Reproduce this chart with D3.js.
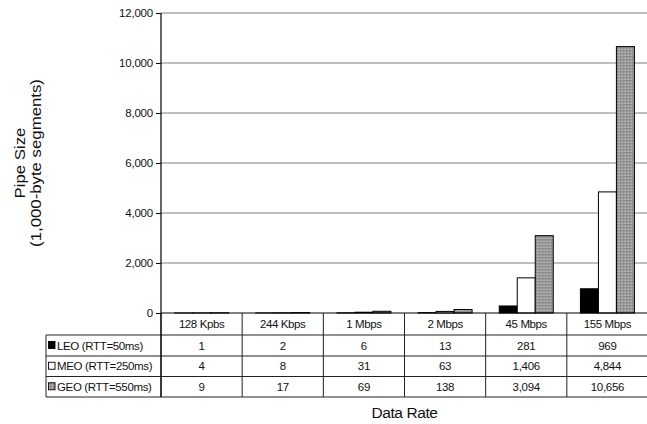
<!DOCTYPE html>
<html>
<head>
<meta charset="utf-8">
<script src="https://cdn.jsdelivr.net/npm/d3@7"></script>
<style>
  html, body { margin: 0; padding: 0; background: #fff; }
  svg { display: block; font-family: "Liberation Sans", Arial, Helvetica, sans-serif; }
  text { fill: #111; }
</style>
</head>
<body>
<svg id="chart" width="647" height="424"></svg>
<script>
// Bandwidth-delay product per orbit class, in 1,000-byte segments
const categories = ["128 Kpbs", "244 Kbps", "1 Mbps", "2 Mbps", "45 Mbps", "155 Mbps"];
const seriesNames = ["LEO (RTT=50ms)", "MEO (RTT=250ms)", "GEO (RTT=550ms)"];
const leoValues = [1, 2, 6, 13, 281, 969];
const meoValues = [4, 8, 31, 63, 1406, 4844];
const geoValues = [9, 17, 69, 138, 3094, 10656];
const yTickValues = [0, 2000, 4000, 6000, 8000, 10000, 12000];

const seriesValues = [leoValues, meoValues, geoValues];
const fmt = d3.format(",");

const svg = d3.select("#chart");

// Patterned fill for the GEO bars
const defs = svg.append("defs");
const pat = defs.append("pattern")
  .attr("id", "geoFill").attr("patternUnits", "userSpaceOnUse")
  .attr("width", 3).attr("height", 3);
pat.append("rect").attr("width", 3).attr("height", 3).attr("fill", "#8a8a8a");
pat.append("rect").attr("x", 0.5).attr("y", 0.5).attr("width", 1.6).attr("height", 1.6).attr("fill", "#c4c4c4");

const fills = ["#000", "#fff", "url(#geoFill)"];

const plotLeft = 161, plotRight = 648, plotTop = 13, plotBottom = 313;

const x = d3.scaleBand().domain(categories).range([plotLeft, plotRight]);
const xs = d3.scaleBand().domain(seriesNames).range([0, x.bandwidth()])
  .paddingInner(0).paddingOuter(0.755);
const y = d3.scaleLinear().domain([0, 12000]).range([plotBottom, plotTop]);

// Gridlines
svg.append("g").selectAll("line").data(yTickValues.filter(d => d > 0)).join("line")
  .attr("x1", plotLeft).attr("x2", plotRight)
  .attr("y1", d => y(d)).attr("y2", d => y(d))
  .attr("stroke", "#808080").attr("stroke-width", 1.2);

// Bars
const groups = svg.append("g").selectAll("g").data(categories).join("g")
  .attr("transform", d => `translate(${x(d)},0)`);
groups.selectAll("rect")
  .data((c, i) => seriesNames.map((s, k) => ({ s, k, v: seriesValues[k][i] })))
  .join("rect")
  .attr("x", d => xs(d.s))
  .attr("width", xs.bandwidth())
  .attr("y", d => y(d.v))
  .attr("height", d => plotBottom - y(d.v))
  .attr("fill", d => fills[d.k])
  .attr("stroke", "#000").attr("stroke-width", 1);

// Y axis
const yAxis = svg.append("g")
  .attr("transform", `translate(${plotLeft},0)`)
  .call(d3.axisLeft(y).tickValues(yTickValues).tickFormat(fmt).tickSize(5).tickPadding(3));
yAxis.select(".domain").remove();
yAxis.selectAll(".tick line").attr("stroke", "#000");
yAxis.selectAll(".tick text")
  .attr("font-size", 11.5).attr("letter-spacing", -0.2)
  .attr("font-family", "'Liberation Sans', Arial, sans-serif").attr("fill", "#111");

// Data table below the axis
const rowEdges = [313, 335, 356, 376.5, 397];
const tableLeft = 46;
const lineColor = "#222";
const table = svg.append("g");

// horizontal rules
table.append("line").attr("x1", plotLeft).attr("x2", plotRight)
  .attr("y1", rowEdges[0]).attr("y2", rowEdges[0]).attr("stroke", "#000").attr("stroke-width", 1.2);
rowEdges.slice(1).forEach(r => {
  table.append("line").attr("x1", tableLeft).attr("x2", plotRight)
    .attr("y1", r).attr("y2", r).attr("stroke", lineColor).attr("stroke-width", 1);
});
// vertical rules between categories
categories.forEach(c => {
  table.append("line").attr("x1", x(c)).attr("x2", x(c))
    .attr("y1", rowEdges[0]).attr("y2", rowEdges[4]).attr("stroke", lineColor).attr("stroke-width", 1);
});
table.append("line").attr("x1", tableLeft).attr("x2", tableLeft)
  .attr("y1", rowEdges[1]).attr("y2", rowEdges[4]).attr("stroke", lineColor).attr("stroke-width", 1);

// axis line running from the top of the plot through the table
svg.append("line").attr("x1", plotLeft).attr("x2", plotLeft)
  .attr("y1", plotTop).attr("y2", rowEdges[4]).attr("stroke", "#000").attr("stroke-width", 1.2);

const cellFont = 11.5;
// header row: category names
table.selectAll("text.cat").data(categories).join("text").attr("class", "cat")
  .attr("x", d => x(d) + x.bandwidth() / 2)
  .attr("y", (rowEdges[0] + rowEdges[1]) / 2 + 4)
  .attr("text-anchor", "middle").attr("font-size", cellFont).attr("letter-spacing", -0.4)
  .text(d => d);

// value rows with legend keys
seriesNames.forEach((s, k) => {
  const cy = (rowEdges[k + 1] + rowEdges[k + 2]) / 2;
  table.append("rect")
    .attr("x", 48.5).attr("y", cy - 4).attr("width", 6.5).attr("height", 7)
    .attr("fill", fills[k]).attr("stroke", "#000").attr("stroke-width", 0.9);
  table.append("text")
    .attr("x", 57).attr("y", cy + 4)
    .attr("font-size", cellFont).attr("letter-spacing", -0.35)
    .text(s);
  table.selectAll(null).data(seriesValues[k]).join("text")
    .attr("x", (d, i) => x(categories[i]) + x.bandwidth() / 2)
    .attr("y", cy + 4)
    .attr("text-anchor", "middle").attr("font-size", cellFont).attr("letter-spacing", -0.3)
    .text(d => fmt(d));
});

// Axis titles
svg.append("text")
  .attr("x", (plotLeft + plotRight) / 2).attr("y", 418)
  .attr("text-anchor", "middle").attr("font-size", 15.5).attr("letter-spacing", -0.4)
  .text("Data Rate");

const yTitle = svg.append("text")
  .attr("transform", `translate(25,${(plotTop + plotBottom) / 2}) rotate(-90) scale(1.12,1)`)
  .attr("text-anchor", "middle").attr("font-size", 15);
yTitle.append("tspan").attr("x", 0).attr("dy", 0).text("Pipe Size");
yTitle.append("tspan").attr("x", 0).attr("dy", 16).text("(1,000-byte segments)");
</script>
</body>
</html>
